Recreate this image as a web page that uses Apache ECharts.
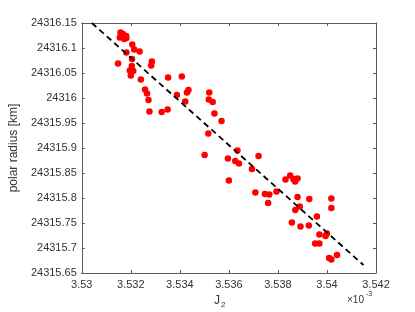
<!DOCTYPE html>
<html>
<head>
<meta charset="utf-8">
<script src="https://cdn.jsdelivr.net/npm/echarts@6/dist/echarts.min.js"></script>
<style>html,body{margin:0;padding:0;background:#fff}#c{width:415px;height:312px}</style>
</head>
<body>
<div id="c"></div>
<script>
// J2 values in units of 1e-3
var j2 = [3.53158,3.53168,3.53181,3.53155,3.53173,3.53182,3.53206,3.53214,3.53236,3.53182,
          3.53205,3.53148,3.53204,3.53196,3.53210,3.53200,3.53286,3.53283,3.53241,3.53352,
          3.53408,3.53258,3.53266,3.53272,3.53276,3.53326,3.53350,3.53388,3.53422,3.53429,
          3.53435,3.53520,3.53518,3.53534,3.53541,3.53570,3.53516,3.53501,3.53596,3.53626,
          3.53635,3.53641,3.53600,3.53721,3.53694,3.53708,3.53747,3.53765,3.53760,3.53794,
          3.53831,3.53850,3.53863,3.53870,3.53880,3.53880,3.53871,3.53889,3.53928,3.53857,
          3.53892,3.53926,3.53959,3.53969,3.53994,3.54000,3.53952,3.53969,3.54018,3.54018,
          3.54041,3.54009,3.54018];
// polar radius [km]
var radius = [24316.131,24316.128,24316.124,24316.121,24316.118,24316.120,24316.107,24316.097,24316.093,24316.091,
              24316.078,24316.069,24316.064,24316.055,24316.054,24316.045,24316.073,24316.065,24316.037,24316.041,
              24316.043,24316.017,24316.009,24315.996,24315.973,24315.972,24315.977,24316.006,24315.993,24316.011,
              24316.016,24316.011,24315.997,24315.992,24315.969,24315.954,24315.929,24315.886,24315.879,24315.874,
              24315.895,24315.869,24315.835,24315.884,24315.858,24315.811,24315.808,24315.807,24315.790,24315.813,
              24315.837,24315.845,24315.838,24315.833,24315.839,24315.802,24315.776,24315.783,24315.798,24315.751,
              24315.743,24315.745,24315.763,24315.727,24315.724,24315.729,24315.709,24315.709,24315.799,24315.780,
              24315.686,24315.680,24315.677];
// fitted line endpoints
var fitX = [3.53041, 3.54149];
var fitY = [24316.150, 24315.666];

var pts = j2.map(function(x,i){return [x, radius[i]];});
var fit = fitX.map(function(x,i){return [x, fitY[i]];});

var axisCol = '#5a5a5a', txtCol = '#333';
var font = 'Liberation Sans, Arial, sans-serif';
function fmt(d){return function(v){return String(+(+v).toFixed(d));};}
var chart = echarts.init(document.getElementById('c'));
chart.setOption({
  animation:false,
  backgroundColor:'#fff',
  grid:{left:66,right:39,top:23,bottom:39,containLabel:false},
  xAxis:[{
    type:'value',min:3.53,max:3.542,interval:0.002,
    axisLine:{show:true,lineStyle:{color:axisCol,width:1}},
    axisTick:{show:true,inside:true,length:3,lineStyle:{color:axisCol}},
    axisLabel:{color:txtCol,fontSize:11,fontFamily:font,margin:6,formatter:fmt(3)},
    splitLine:{show:false}
  },{
    type:'value',position:'top',min:3.53,max:3.542,interval:0.002,
    axisLine:{show:true,onZero:false,lineStyle:{color:axisCol,width:1}},
    axisTick:{show:true,inside:true,length:3,lineStyle:{color:axisCol}},
    axisLabel:{show:false},splitLine:{show:false}
  }],
  yAxis:[{
    type:'value',min:24315.65,max:24316.15,interval:0.05,
    axisLine:{show:true,lineStyle:{color:axisCol,width:1}},
    axisTick:{show:true,inside:true,length:3,lineStyle:{color:axisCol}},
    axisLabel:{color:txtCol,fontSize:11,fontFamily:font,margin:5,formatter:fmt(2)},
    splitLine:{show:false},
    name:'polar radius [km]',nameLocation:'middle',nameGap:56,
    nameTextStyle:{color:txtCol,fontSize:12,fontFamily:font}
  },{
    type:'value',position:'right',min:24315.65,max:24316.15,interval:0.05,
    axisLine:{show:true,onZero:false,lineStyle:{color:axisCol,width:1}},
    axisTick:{show:true,inside:true,length:3,lineStyle:{color:axisCol}},
    axisLabel:{show:false},splitLine:{show:false}
  }],
  graphic:[
    {type:'text',left:214,top:295,style:{text:'J',fontSize:12,fontFamily:font,fill:txtCol}},
    {type:'text',left:221,top:301,style:{text:'2',fontSize:8,fontFamily:font,fill:txtCol}},
    {type:'text',left:347,top:295,style:{text:'×10',fontSize:10,fontFamily:font,fill:txtCol}},
    {type:'text',left:366,top:291,style:{text:'-3',fontSize:7,fontFamily:font,fill:txtCol}}
  ],
  series:[{
    type:'scatter',data:pts,symbol:'circle',symbolSize:6.5,
    itemStyle:{color:'#ff0000',opacity:1},z:2
  },{
    type:'line',data:fit,symbol:'none',z:3,
    lineStyle:{color:'#000',width:1.8,type:[6,4]}
  }]
});
</script>
</body>
</html>
